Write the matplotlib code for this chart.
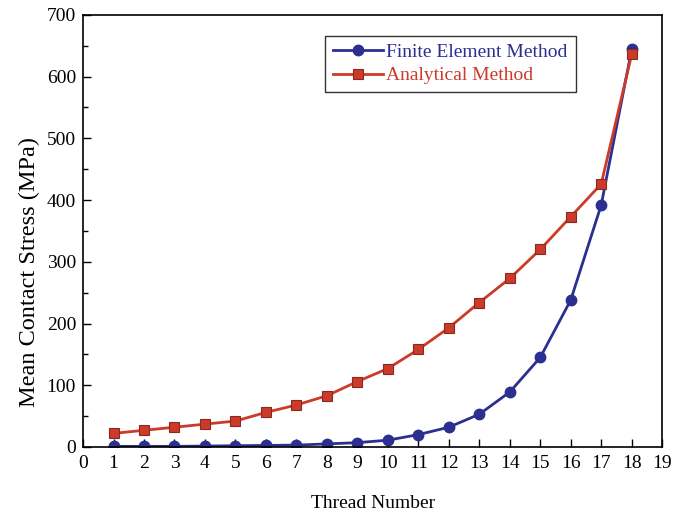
import numpy as np
import matplotlib
matplotlib.use("Agg")
import matplotlib.pyplot as plt
from matplotlib.ticker import MultipleLocator

plt.rcParams['font.family'] = ['Liberation Serif', 'DejaVu Serif']

threads = [1, 2, 3, 4, 5, 6, 7, 8, 9, 10, 11, 12, 13, 14, 15, 16, 17, 18]
fem = [1, 1, 1, 1.5, 2, 2.5, 3, 5, 7, 11, 20, 32, 53, 89, 145, 238, 392, 644]
analytical = [22, 27, 32, 37, 42, 56, 68, 83, 106, 127, 158, 193, 234, 273, 320, 373, 426, 636]

blue = '#2b2f8f'
red = '#cc3a2a'

fig = plt.figure(figsize=(6.75, 5.12), dpi=100)
ax = fig.add_axes([0.123, 0.127, 0.858, 0.844])

ax.plot(threads, fem, color=blue, lw=2, marker='o', ms=7.5,
        mfc=blue, mec=blue, label='Finite Element Method')
ax.plot(threads, analytical, color=red, lw=2, marker='s', ms=7,
        mfc=red, mec='#8a2a1e', mew=0.8, label='Analytical Method')

ax.set_xlim(0, 19)
ax.set_ylim(0, 700)
ax.xaxis.set_major_locator(MultipleLocator(1))
ax.yaxis.set_major_locator(MultipleLocator(100))
ax.yaxis.set_minor_locator(MultipleLocator(50))
ax.tick_params(axis='both', which='both', direction='in', labelsize=14,
               top=False, right=False)
ax.tick_params(axis='both', which='major', length=6, width=1)
ax.tick_params(axis='y', which='minor', length=3.5, width=1)
ax.tick_params(axis='x', pad=6)
ax.tick_params(axis='y', pad=5)
for s in ax.spines.values():
    s.set_linewidth(1.2)

ax.set_xlabel('Thread Number', fontsize=14, labelpad=16)
ax.set_ylabel('Mean Contact Stress (MPa)', fontsize=17.5)
ax.yaxis.set_label_coords(-0.075, 0.405)

leg = ax.legend(loc='upper left', bbox_to_anchor=(0.418, 0.952), fontsize=14,
                frameon=True, fancybox=False, edgecolor='black',
                handlelength=2.6, handletextpad=0.15, borderpad=0.4,
                labelspacing=0.3, borderaxespad=0)
leg.get_frame().set_linewidth(1.0)
for txt, c in zip(leg.get_texts(), [blue, red]):
    txt.set_color(c)

fig.savefig('out.png', dpi=100)
